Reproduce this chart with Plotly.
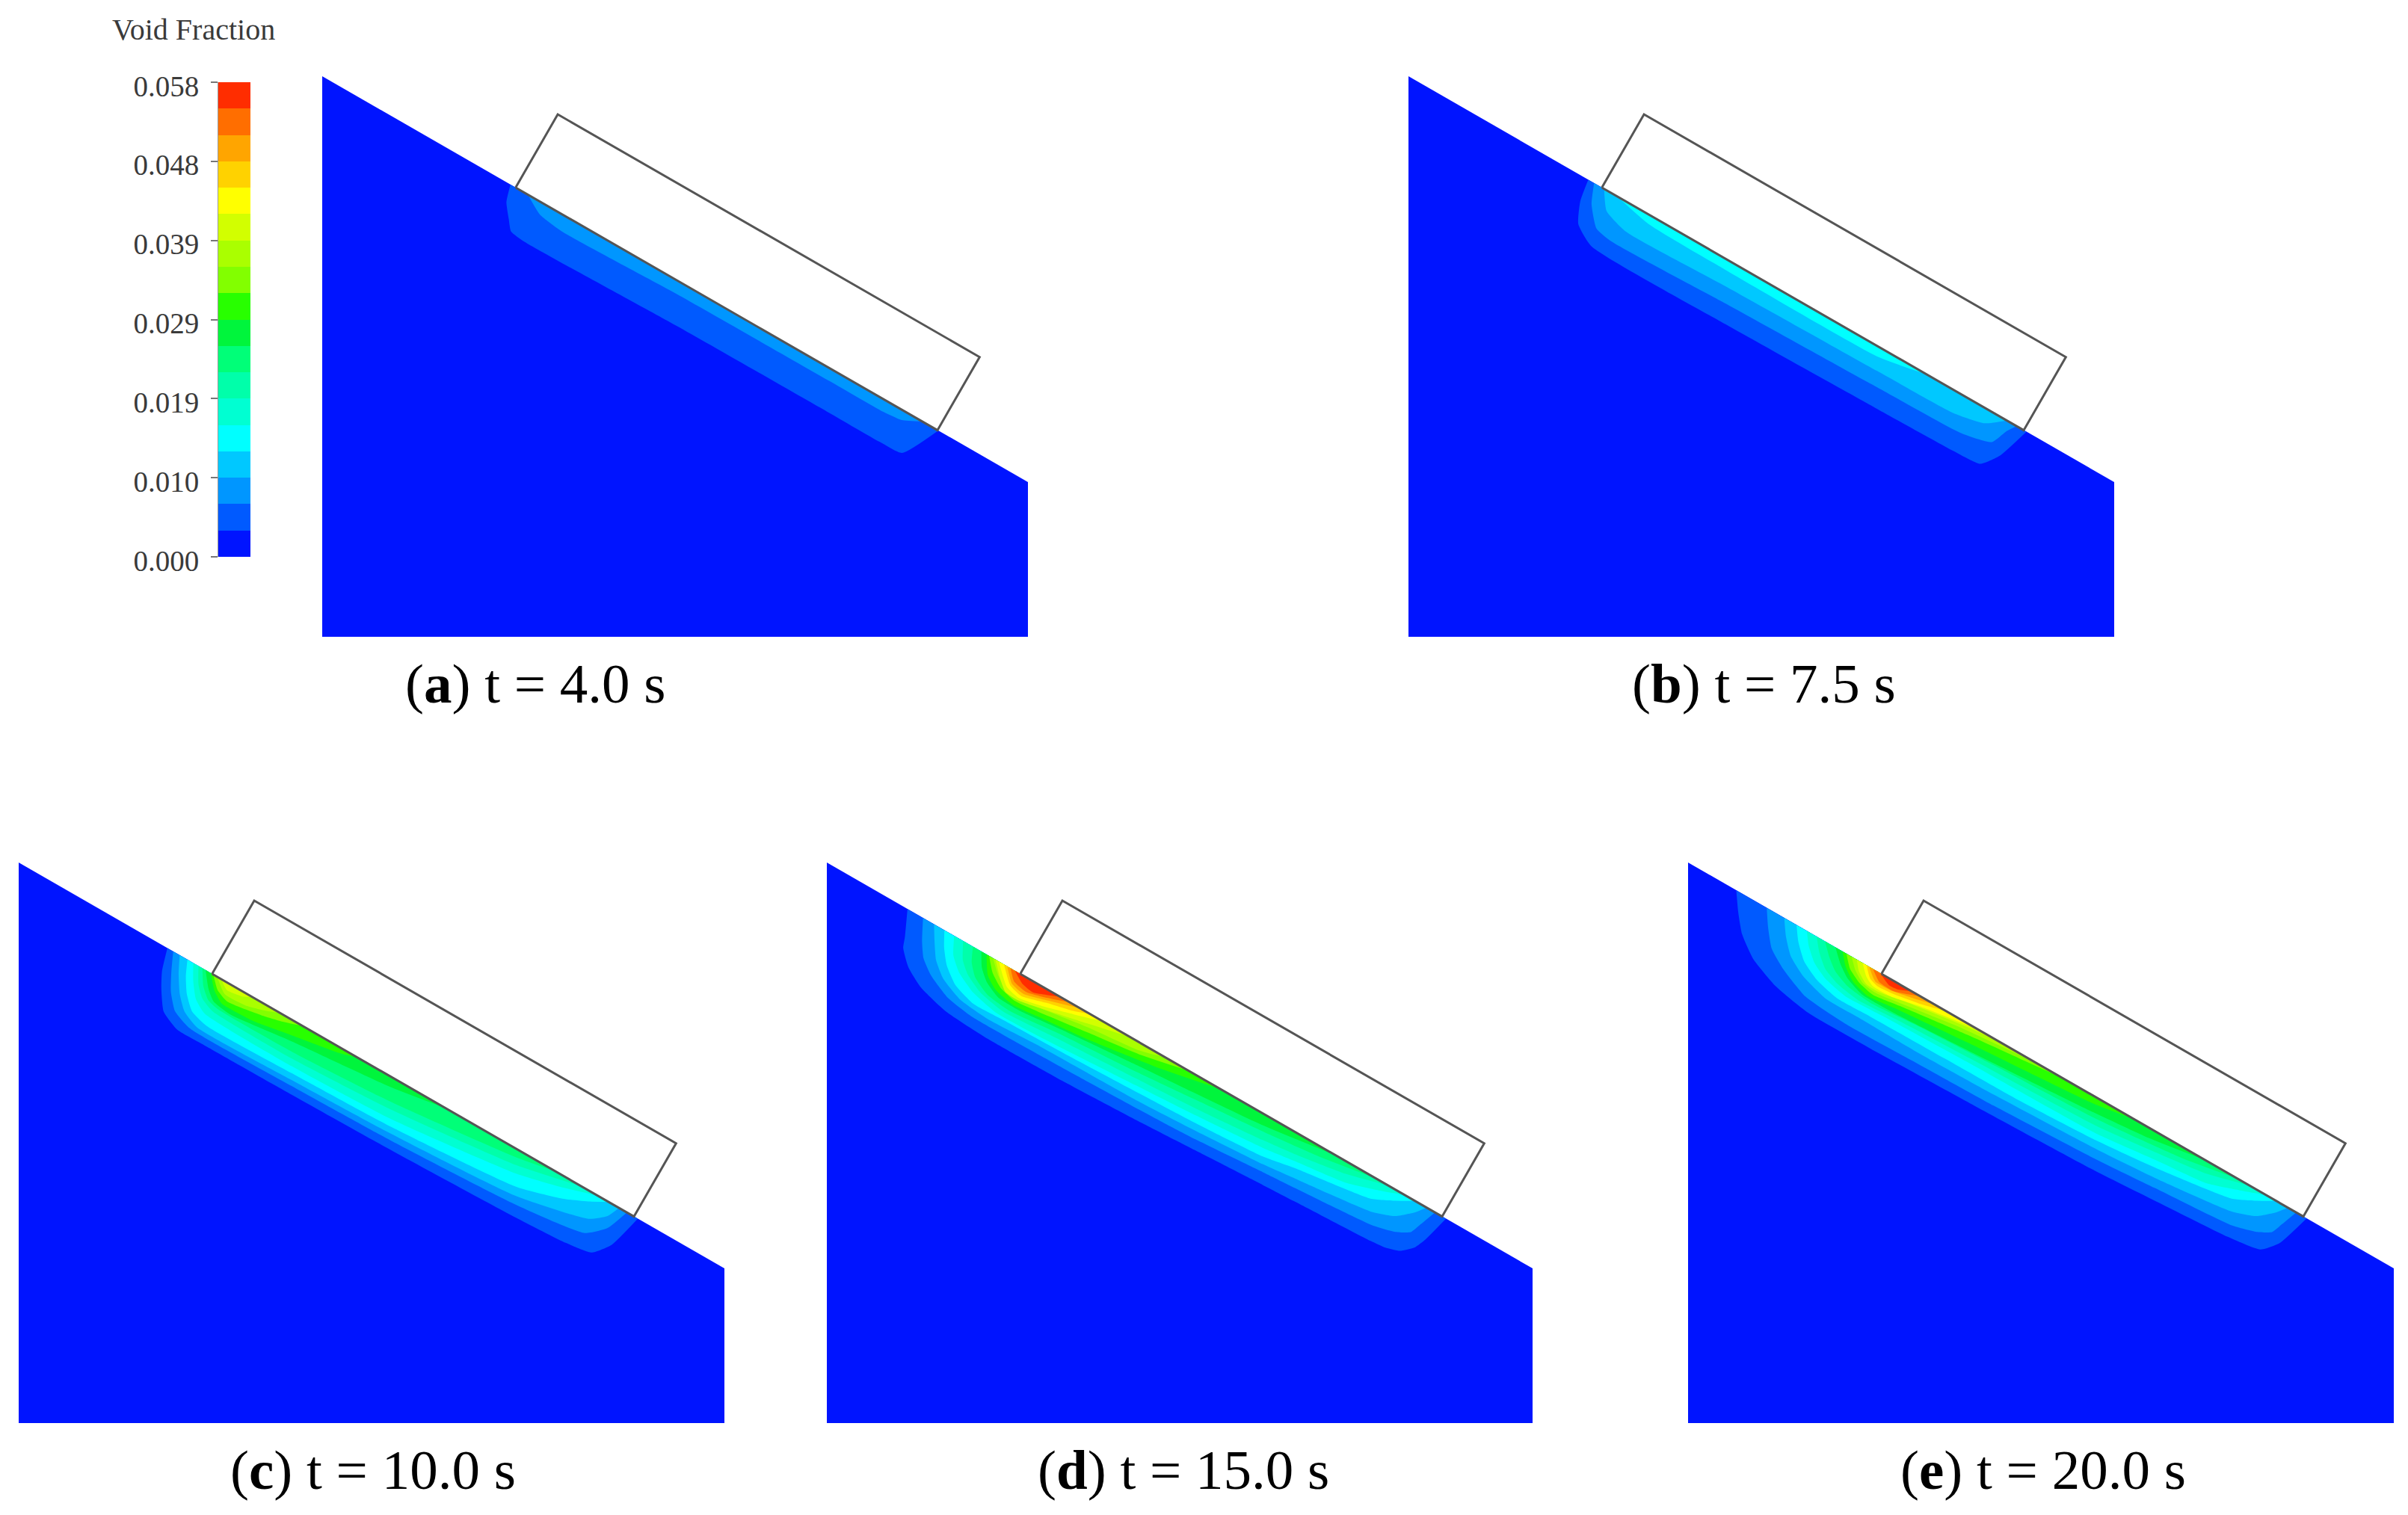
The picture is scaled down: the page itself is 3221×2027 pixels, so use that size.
import numpy as np
import plotly.graph_objects as go

W, H = 3221, 2027

# Colour bands of the void-fraction legend, low to high
band_colors = ["#0014ff", "#005aff", "#0096ff", "#00c8ff", "#00ffff", "#00ffd2", "#00ffaa", "#00ff78",
               "#00f53c", "#28ff00", "#82ff00", "#aaff00", "#d2ff00", "#ffff00", "#ffd200", "#ffa500",
               "#ff6e00", "#ff2d00"]
legend_ticks = ["0.000", "0.010", "0.019", "0.029", "0.039", "0.048", "0.058"]
legend_max = 0.058

# Contour boundaries per panel, innermost band last.
# s = distance along the slope from the plate's lower corner, d = depth below the slope
a_s = [[-8, -1, 13, 24, 47, 280, 513, 592, 625, 652],
       [19, 46, 84, 258, 494, 571, 603, 628]]
a_d = [[0, 23, 41, 54, 57, 53, 52, 52, 50, 0],
       [0, 15, 20, 16, 15, 15, 12, 0]]

b_s = [[-21, -16, -3, 27, 235, 467, 583, 623, 640, 655],
       [-12, -1, 21, 46, 220, 453, 581, 622, 632, 640],
       [3.5, 21, 57, 208, 442, 558, 601, 625],
       [24, 78, 198, 434, 500]]
b_d = [[0, 30, 58, 75, 76, 73, 71, 68, 46, 0],
       [0, 26, 51, 56, 52, 48, 45, 35, 12, 0],
       [0, 24, 35, 32, 29, 27, 18, 0],
       [0, 11, 13, 12, 0]]

c_s = [[-69, -60, -49, -31, -3, 35, 173, 328, 515, 590, 626, 644, 657],
       [-60, -49, -36, -18, 10, 167, 321, 507, 605, 628, 640],
       [-50, -39, -24, -7, 18, 163, 316, 500, 600, 620, 628],
       [-38, -29, -16, 2, 29, 159, 311, 495, 556, 590, 612],
       [-29, -17, -2, 18, 154, 305, 485, 545, 595],
       [-21, -9, 5, 25, 149, 299, 480, 570],
       [-15, -2, 13, 29, 144, 294, 475, 530],
       [-10, 6, 20, 47, 139, 284, 360],
       [-2, 14, 31, 81, 134, 200, 225],
       [2, 17, 36, 85, 115, 140],
       [8, 28, 62, 90, 105],
       [14, 28, 50, 62]]
c_d = [[0, 30, 51, 76, 88, 88, 87, 85, 80, 76, 70, 48, 0],
       [0, 24, 48, 68, 78, 77, 74, 65, 52, 31, 0],
       [0, 22, 45, 62, 72, 70, 66, 55, 33, 17, 0],
       [0, 20, 40, 57, 64, 62, 58, 44, 27, 12, 0],
       [0, 21, 40, 51, 54, 49, 29, 15, 0],
       [0, 21, 35, 43, 45, 38, 19, 0],
       [0, 20, 33, 37, 37, 29, 10, 0],
       [0, 20, 31, 35, 25, 12, 0],
       [0, 18, 28, 27, 18, 7, 0],
       [0, 15, 22, 15, 8, 0],
       [0, 15, 14, 6, 0],
       [0, 9, 6, 0]]

d_s = [[-174, -158, -153, -134, -106, -62, 6, 121, 236, 320, 422, 469, 585, 606, 625, 640, 647, 657],
       [-150, -136, -123, -103, -68, -26, 35, 150, 266, 314, 415, 462, 574, 607, 625, 631, 640],
       [-133, -122, -107, -86, -52, -8, 67, 221, 309, 408, 456, 564, 596, 617, 627],
       [-117, -106, -91, -68, -34, 7, 103, 255, 304, 403, 449, 556, 586, 609],
       [-102, -90, -72, -42, -3, 63, 210, 299, 397, 443, 517, 560, 593],
       [-88, -76, -60, -34, 5, 75, 206, 294, 392, 438, 510, 568],
       [-73, -64, -50, -24, 13, 90, 201, 287, 397, 472, 549],
       [-60, -49, -33, -10, 25, 86, 197, 279, 380, 487],
       [-52, -37, -18, 12, 48, 122, 228, 310],
       [-48, -33, -14, 12, 45, 117, 191, 260],
       [-42, -25, -10, 14, 43, 114, 186, 225],
       [-38, -19, -5, 16, 48, 110, 170],
       [-33, -7, 14, 46, 90, 127],
       [-25, -4, 16, 50, 85, 108],
       [-20, -3, 17, 48, 92],
       [-15, -2, 19, 47, 77],
       [-8, 9, 27, 44, 62]]
d_d = [[0, 35, 48, 67, 82, 93, 97, 96, 92, 88, 83, 81, 76, 74, 68, 54, 38, 0],
       [0, 27, 46, 61, 76, 82, 82, 80, 77, 75, 68, 65, 57, 49, 39, 24, 0],
       [0, 18, 40, 57, 70, 74, 71, 69, 65, 59, 54, 42, 31, 13, 0],
       [0, 20, 39, 56, 66, 65, 63, 58, 56, 50, 42, 27, 13, 0],
       [0, 23, 39, 53, 61, 60, 52, 47, 40, 34, 25, 12, 0],
       [0, 22, 36, 48, 55, 51, 44, 39, 31, 26, 15, 0],
       [0, 19, 34, 46, 50, 43, 36, 29, 20, 12, 0],
       [0, 18, 32, 42, 43, 37, 28, 22, 14, 0],
       [0, 23, 35, 41, 38, 31, 16, 0],
       [0, 17, 29, 35, 32, 23, 14, 0],
       [0, 16, 25, 31, 27, 17, 10, 0],
       [0, 20, 31, 32, 26, 13, 0],
       [0, 24, 29, 23, 11, 0],
       [0, 20, 25, 16, 8, 0],
       [0, 17, 21, 13, 0],
       [0, 13, 17, 10, 0],
       [0, 10, 13, 7, 0]]

e_s = [[-224, -208, -188, -159, -114, -60, 37, 189, 378, 480, 577, 623, 641, 656],
       [-177, -163, -144, -117, -73, -9, 105, 218, 372, 460, 574, 607, 625, 631, 640],
       [-150, -136, -117, -89, -48, 5, 98, 213, 365, 456, 564, 596, 617, 627],
       [-131, -118, -98, -71, -34, 15, 130, 245, 360, 449, 556, 586, 609],
       [-115, -104, -85, -62, -27, 30, 162, 354, 443, 517, 560, 593],
       [-100, -86, -68, -44, -10, 46, 159, 350, 438, 510, 568],
       [-87, -72, -55, -31, 6, 80, 193, 345, 472, 549],
       [-71, -54, -36, -8, 42, 154, 340, 420, 500],
       [-60, -47, -28, -1, 39, 149, 334, 390],
       [-54, -40, -20, 4, 43, 144, 217, 280],
       [-46, -33, -16, 5, 44, 123, 240],
       [-38, -28, -11, 7, 49, 139, 190],
       [-29, -16, -2, 25, 66, 150],
       [-23, -10, 4, 30, 65, 100],
       [-19, -2, 21, 56, 83],
       [-13, 3, 26, 60],
       [-2, 16, 30, 46]]
e_d = [[0, 23, 47, 68, 85, 94, 94, 91, 86, 80, 74, 67, 47, 0],
       [0, 21, 44, 60, 77, 82, 80, 78, 72, 66, 58, 49, 39, 24, 0],
       [0, 20, 40, 55, 66, 66, 67, 65, 60, 54, 42, 31, 13, 0],
       [0, 18, 37, 50, 58, 57, 56, 55, 50, 42, 27, 13, 0],
       [0, 15, 32, 43, 50, 48, 45, 42, 33, 26, 12, 0],
       [0, 17, 32, 41, 46, 43, 39, 33, 24, 15, 0],
       [0, 15, 28, 37, 41, 36, 31, 25, 13, 0],
       [0, 16, 28, 37, 37, 31, 19, 12, 0],
       [0, 15, 28, 35, 31, 22, 9, 0],
       [0, 15, 25, 30, 25, 13, 6, 0],
       [0, 13, 23, 26, 21, 10, 0],
       [0, 12, 22, 23, 16, 4, 0],
       [0, 13, 20, 20, 12, 0],
       [0, 13, 17, 15, 9, 0],
       [0, 13, 13, 6.5, 0],
       [0, 11, 12, 0],
       [0, 8, 7, 0]]

# Domain outline and plate, in panel units
domain_x = [0, 0, 944, 944]
domain_y = [0, 750, 207, 0]
plate_s = [0, 651, 651, 0, 0]
plate_d = [0, 0, -113, -113, 0]
corner_x, corner_y = 258.7, 601.0
slope_angle = np.arctan(0.5753)

captions = ["t = 4.0 s", "t = 7.5 s", "t = 10.0 s", "t = 15.0 s", "t = 20.0 s"]
letters = ["a", "b", "c", "d", "e"]
panel_left = [431, 1884, 25, 1106, 2258]
panel_bottom = [852, 852, 1904, 1904, 1904]
caption_x = [716, 2359, 499, 1583, 2733]
caption_y = [914, 914, 1966, 1966, 1966]
panel_s = [a_s, b_s, c_s, d_s, e_s]
panel_d = [a_d, b_d, c_d, d_d, e_d]

SERIF = "Liberation Serif"


def to_xy(s, d):
    s, d = np.asarray(s, float), np.asarray(d, float)
    c, n = np.cos(slope_angle), np.sin(slope_angle)
    return corner_x + c * s - n * d, corner_y - n * s - c * d


fig = go.Figure()
layout = {}
for i, (left, bottom) in enumerate(zip(panel_left, panel_bottom)):
    idx = i + 1
    suffix = "" if idx == 1 else str(idx)
    layout["xaxis" + suffix] = dict(domain=[left / W, (left + 944) / W], range=[0, 944], visible=False,
                                    fixedrange=True, anchor="y" + suffix, automargin=False)
    layout["yaxis" + suffix] = dict(domain=[(H - bottom) / H, (H - bottom + 750) / H], range=[0, 750],
                                    visible=False, fixedrange=True, anchor="x" + suffix, automargin=False)
    ax = dict(xaxis="x" + suffix, yaxis="y" + suffix)
    fig.add_trace(go.Scatter(x=domain_x, y=domain_y, mode="lines", fill="toself", fillcolor=band_colors[0],
                             line=dict(width=0), hoverinfo="skip", showlegend=False, **ax))
    for level, (s, d) in enumerate(zip(panel_s[i], panel_d[i]), start=1):
        x, y = to_xy(s, d)
        fig.add_trace(go.Scatter(x=x, y=y, mode="lines", fill="toself", fillcolor=band_colors[level],
                                 line=dict(width=0, shape="spline", smoothing=0.5), hoverinfo="skip",
                                 showlegend=False, **ax))
    px, py = to_xy(plate_s, plate_d)
    fig.add_trace(go.Scatter(x=px, y=py, mode="lines", line=dict(color="#555555", width=3),
                             hoverinfo="skip", showlegend=False, **ax))

# Legend as a real axis + heatmap
n_bands = len(band_colors)
edges = np.linspace(0, legend_max, n_bands + 1)
centers = (edges[:-1] + edges[1:]) / 2
scale = []
for k, col in enumerate(band_colors):
    scale += [[k / n_bands, col], [(k + 1) / n_bands, col]]
fig.add_trace(go.Heatmap(x=[0], y=centers, z=[[k + 0.5] for k in range(n_bands)], zmin=0, zmax=n_bands,
                         colorscale=scale, showscale=False, hoverinfo="skip", xaxis="x6", yaxis="y6"))
layout["xaxis6"] = dict(domain=[292 / W, 335 / W], range=[-0.5, 0.5], visible=False, fixedrange=True, anchor="y6",
                        automargin=False)
layout["yaxis6"] = dict(domain=[(H - 745) / H, (H - 110) / H], range=[0, legend_max], anchor="x6", fixedrange=True,
                        tickmode="array", tickvals=list(np.linspace(0, legend_max, len(legend_ticks))),
                        ticktext=legend_ticks, ticks="outside", ticklen=9, tickwidth=1.5, tickcolor="#777777",
                        ticklabelstandoff=8, ticklabelshift=5, showgrid=False, zeroline=False, showline=True,
                        linecolor="#999999", linewidth=1, automargin=False,
                        tickfont=dict(family=SERIF, size=39, color="#3a3a3a"))

annotations = [dict(text="Void Fraction", x=259 / W, y=1 - 40 / H, xref="paper", yref="paper", showarrow=False,
                    xanchor="center", yanchor="middle", font=dict(family=SERIF, size=40, color="#3a3a3a"))]
for letter, cap, cx, cy in zip(letters, captions, caption_x, caption_y):
    annotations.append(dict(text=f"(<b>{letter}</b>) {cap}", x=cx / W, y=1 - cy / H, xref="paper", yref="paper",
                            showarrow=False, xanchor="center", yanchor="middle",
                            font=dict(family=SERIF, size=75, color="#000000")))

fig.update_layout(width=W, height=H, margin=dict(l=0, r=0, t=0, b=0), paper_bgcolor="white",
                  plot_bgcolor="rgba(0,0,0,0)", showlegend=False, annotations=annotations, **layout)
fig.write_html("out.html", config=dict(displayModeBar=False),
               post_script="document.body.style.margin='0';")
